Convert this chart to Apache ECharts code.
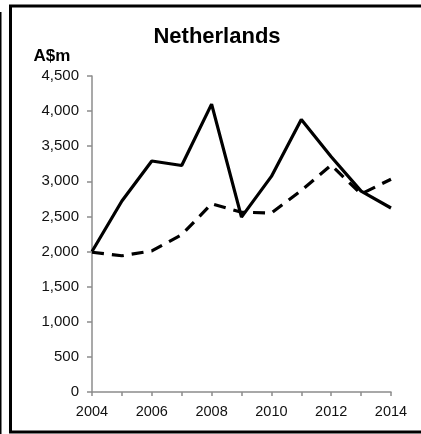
<!DOCTYPE html>
<html>
<head>
<meta charset="utf-8">
<script src="https://cdn.jsdelivr.net/npm/echarts@6/dist/echarts.min.js"></script>
<style>
html,body{margin:0;padding:0;background:#fff;}
#chart{width:421px;height:434px;}
</style>
</head>
<body>
<div id="chart"></div>
<script>
var years = ['2004','2005','2006','2007','2008','2009','2010','2011','2012','2013','2014'];
var solidSeries = [2000, 2720, 3290, 3225, 4100, 2490, 3070, 3880, 3350, 2860, 2620];
var dashedSeries = [1990, 1940, 2010, 2240, 2680, 2560, 2550, 2870, 3230, 2820, 3030];
var titleText = 'Netherlands';
var unitText = 'A$m';

var chart = echarts.init(document.getElementById('chart'), null, {renderer:'canvas'});
var fontFam = '"Liberation Sans", Arial, sans-serif';
chart.setOption({
  animation: false,
  backgroundColor: '#fff',
  title: {
    text: titleText,
    left: 217,
    top: 26,
    padding: 0,
    textAlign: 'center',
    textStyle: {fontFamily: fontFam, fontSize: 22, fontWeight: 'bold', color: '#000'}
  },
  graphic: [
    {type: 'rect', shape: {x: 10.5, y: 6, width: 430, height: 426}, style: {fill: 'none', stroke: '#000', lineWidth: 3}, silent: true},
    {type: 'line', shape: {x1: 0.75, y1: 12, x2: 0.75, y2: 434}, style: {stroke: '#000', lineWidth: 1.5}, silent: true},
    {type: 'text', x: 52, y: 56, style: {text: unitText, fontFamily: fontFam, fontSize: 17, fontWeight: 'bold', fill: '#000', align: 'center', verticalAlign: 'middle'}, silent: true}
  ],
  grid: {left: 92, right: 30, top: 76, bottom: 42, containLabel: false},
  xAxis: {
    type: 'category',
    data: years,
    boundaryGap: false,
    axisLine: {lineStyle: {color: '#8c8c8c', width: 1.5}},
    axisTick: {show: true, interval: 0, length: 4, lineStyle: {color: '#8c8c8c', width: 1.5}},
    axisLabel: {interval: 1, margin: 12, fontFamily: fontFam, fontSize: 14.5, color: '#111'},
    splitLine: {show: false}
  },
  yAxis: {
    type: 'value',
    min: 0, max: 4500, interval: 500,
    axisLine: {show: true, lineStyle: {color: '#8c8c8c', width: 1.5}},
    axisTick: {show: true, length: 5, lineStyle: {color: '#8c8c8c', width: 1.5}},
    axisLabel: {margin: 13, fontFamily: fontFam, fontSize: 15, color: '#111',
      formatter: function (v) { return v.toLocaleString('en-US'); }},
    splitLine: {show: false}
  },
  series: [
    {type: 'line', data: solidSeries, symbol: 'none', lineStyle: {color: '#000', width: 3.2, type: 'solid'}},
    {type: 'line', data: dashedSeries, symbol: 'none', lineStyle: {color: '#000', width: 3.2, type: [12, 8]}}
  ]
});
</script>
</body>
</html>
